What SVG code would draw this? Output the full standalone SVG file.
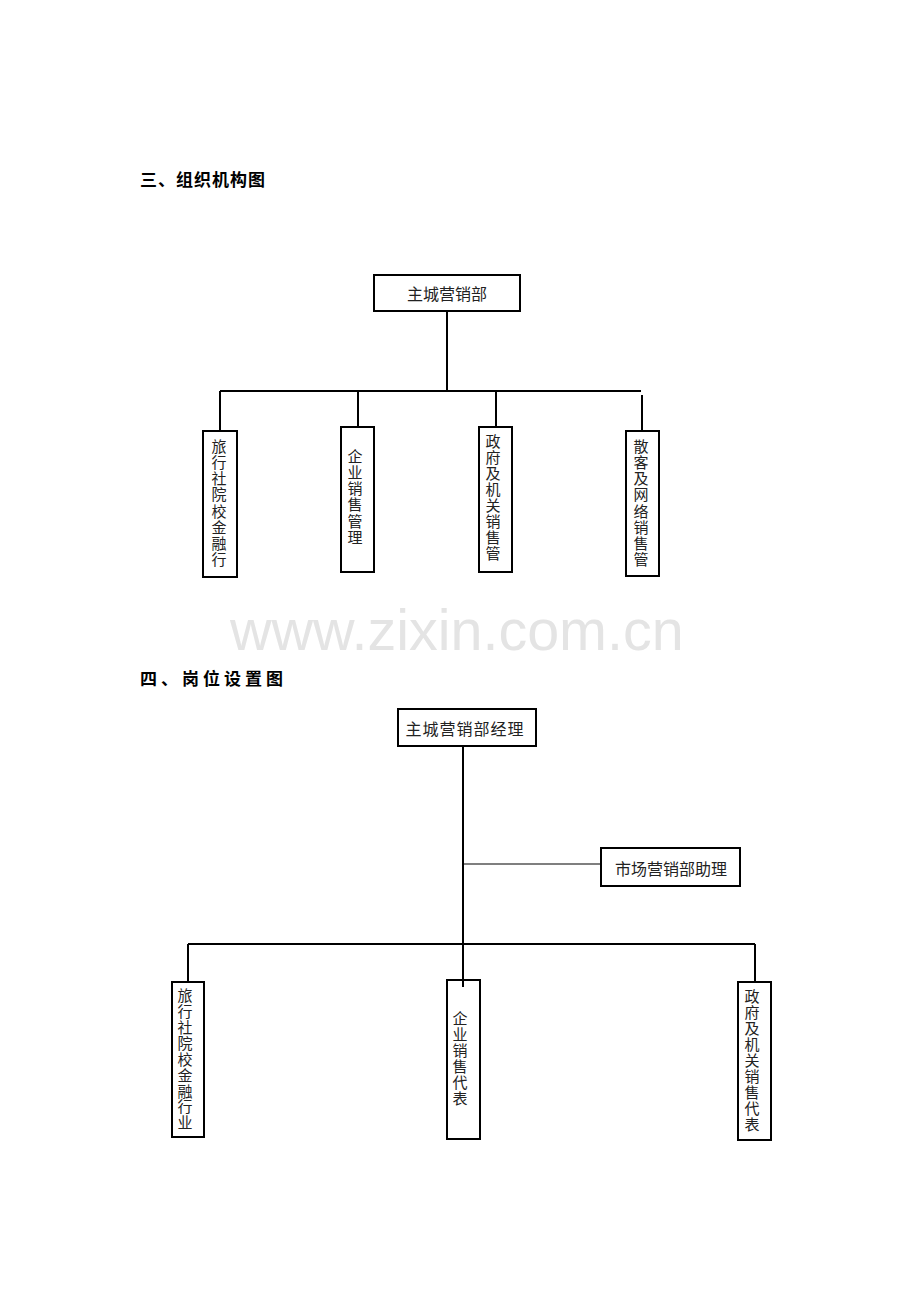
<svg xmlns="http://www.w3.org/2000/svg" width="920" height="1302" viewBox="0 0 920 1302">
<style>
.bg{fill:#fff}
.box{fill:#fff;stroke:#000;stroke-width:2}
.ln{fill:none;stroke:#000;stroke-width:2}
.thin{fill:none;stroke:#000;stroke-width:1.2}
.t{font-family:"Noto Sans CJK SC",sans-serif;font-size:15px;fill:#222;writing-mode:vertical-rl;text-orientation:upright}
.h{font-family:"Noto Sans CJK SC",sans-serif;font-size:16px;fill:#222;text-anchor:middle}
.title{font-family:"Noto Sans CJK SC",sans-serif;font-size:17px;font-weight:bold;fill:#000}
.wm{font-family:"Liberation Sans",Arial,sans-serif;font-size:57.5px;fill:#e4e4e4}
</style>
<rect class="bg" x="0" y="0" width="920" height="1302"/>
<text class="wm" x="230" y="650">www.zixin.com.cn</text>
<text class="title" x="140" y="186" letter-spacing="1">三、组织机构图</text>
<text class="title" x="140" y="685" letter-spacing="4">四、岗位设置图</text>

<g id="connectors">
  <path class="ln" d="M447,311 V391 M220,391 H641 M220,391 V431 M358,391 V427 M496,391 V427 M642,395 V431"/>
  <path class="ln" d="M463,746 V987 M188,944 H755 M188,944 V982 M755,944 V982"/>
  <path class="thin" d="M463,864 H601"/>
</g>

<g id="n1">
  <rect class="box" x="374" y="275" width="146" height="36"/>
  <text class="h" x="447" y="300">主城营销部</text>
</g>
<g id="n2">
  <rect class="box" x="203" y="431" width="34" height="146"/>
  <text class="t" x="219" y="439" letter-spacing="1.1">旅行社院校金融行</text>
</g>
<g id="n3">
  <rect class="box" x="341" y="427" width="33" height="145"/>
  <text class="t" x="355" y="449" letter-spacing="1.1">企业销售管理</text>
</g>
<g id="n4">
  <rect class="box" x="479" y="427" width="33" height="145"/>
  <text class="t" x="493" y="434" letter-spacing="0.95">政府及机关销售管</text>
</g>
<g id="n5">
  <rect class="box" x="626" y="431" width="33" height="145"/>
  <text class="t" x="641" y="439" letter-spacing="1.1">散客及网络销售管</text>
</g>

<g id="m1">
  <rect class="box" x="398" y="709" width="138" height="37"/>
  <text class="h" x="465" y="735" letter-spacing="1">主城营销部经理</text>
</g>
<g id="m2">
  <rect class="box" x="601" y="848" width="139" height="38"/>
  <text class="h" x="671" y="875">市场营销部助理</text>
</g>
<g id="m3">
  <rect class="box" x="172" y="982" width="32" height="155"/>
  <text class="t" x="185" y="988" letter-spacing="0.9">旅行社院校金融行业</text>
</g>
<g id="m4">
  <rect class="box" x="447" y="980" width="33" height="159"/>
  <text class="t" x="460" y="1011" letter-spacing="1">企业销售代表</text>
  <path class="ln" d="M463,980 V987"/>
</g>
<g id="m5">
  <rect class="box" x="738" y="982" width="33" height="158"/>
  <text class="t" x="752" y="989" letter-spacing="1">政府及机关销售代表</text>
</g>
</svg>
